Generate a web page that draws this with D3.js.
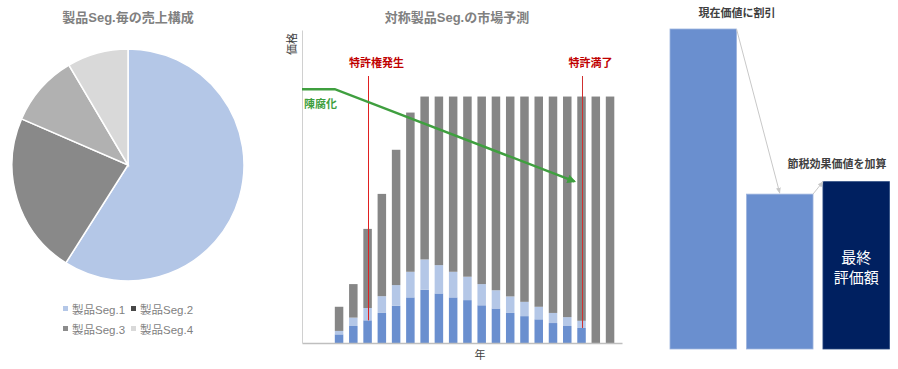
<!DOCTYPE html>
<html>
<head>
<meta charset="utf-8">
<script src="https://cdn.jsdelivr.net/npm/d3@7"></script>
<style>
  body { margin: 0; background: #fff; }
  svg { display: block; font-family: "Liberation Sans", "Noto Sans CJK JP", sans-serif; }
</style>
</head>
<body>
<div id="chart-area"></div>
<script>
// pie data
const segNames = ['製品Seg.1', '製品Seg.2', '製品Seg.3', '製品Seg.4'];
const segShares = [59, 22.5, 10, 8.5];
const pieColors = ['#b4c7e7', '#898989', '#b1b1b1', '#d9d9d9'];
const legendColors = ['#b4c7e7', '#474747', '#8c8c8c', '#d9d9d9'];

// market forecast data
const years = d3.range(1, 21);
const ownSeg = [3.5, 6.9, 9.2, 12.2, 15.1, 18.5, 21.6, 20.1, 18.5, 17.4, 15.3, 14.0, 12.2, 10.9, 9.6, 8.1, 6.9, 6.1, 0, 0];
const subSeg = [1.4, 3.4, 5.0, 6.8, 8.4, 10.4, 12.3, 11.5, 10.4, 9.5, 8.6, 7.4, 6.7, 5.8, 5.1, 4.1, 3.6, 2.9, 0, 0];
const marketTotal = [14.7, 23.9, 46.3, 60.5, 78.4, 93.5, 100, 100, 100, 100, 100, 100, 100, 100, 100, 100, 100, 100, 100, 100];
const priceT = [-1.3, 1, 17.8];
const priceV = [103, 103, 65.6];
const patentStart = 3, patentEnd = 18;

// valuation data
const valNames = ['現在価値', '割引後', '最終評価額'];
const valValues = [100, 48.4, 52.3];

const width = 898, height = 369;

const svg = d3.select('#chart-area')
  .append('svg')
  .attr('width', width)
  .attr('height', height);

// ---------- pie ----------
const pieG = svg.append('g').attr('transform', 'translate(128,165)');

svg.append('text')
  .text('製品Seg.毎の売上構成')
  .attr('x', 128).attr('y', 22)
  .attr('text-anchor', 'middle')
  .attr('font-size', '13px').attr('font-weight', 'bold')
  .attr('fill', '#808080');

const pie = d3.pie().sort(null).value(d => d);
const arc = d3.arc().innerRadius(0).outerRadius(116);

pieG.selectAll('path')
  .data(pie(segShares))
  .enter().append('path')
  .attr('d', arc)
  .attr('fill', (d, i) => pieColors[i])
  .attr('stroke', '#fff')
  .attr('stroke-width', 1.5);

const legend = svg.append('g');
segNames.forEach((name, i) => {
  const lx = 63 + (i % 2) * 68;
  const ly = 311 + Math.floor(i / 2) * 20;
  legend.append('rect')
    .attr('x', lx).attr('y', ly - 5)
    .attr('width', 5).attr('height', 5)
    .attr('fill', legendColors[i]);
  legend.append('text')
    .text(name)
    .attr('x', lx + 9).attr('y', ly)
    .attr('dominant-baseline', 'middle')
    .attr('font-size', '11.5px')
    .attr('fill', '#7f7f7f');
});

// ---------- market forecast ----------
const x = d3.scaleBand()
  .domain(years)
  .range([302, 622])
  .paddingInner(0.404)
  .paddingOuter(1.42)
  .align(0.81);

const y = d3.scaleLinear()
  .domain([0, 127])
  .range([343, 30]);

const xLin = d3.scaleLinear()
  .domain([1, 20])
  .range([x(1), x(20)]);

svg.append('text')
  .text('対称製品Seg.の市場予測')
  .attr('x', 457).attr('y', 22)
  .attr('text-anchor', 'middle')
  .attr('font-size', '13px').attr('font-weight', 'bold')
  .attr('fill', '#808080');

const stackData = years.map((yr, i) => ({
  year: yr,
  own: ownSeg[i],
  sub: subSeg[i],
  rest: marketTotal[i] - ownSeg[i] - subSeg[i]
}));

const stack = d3.stack().keys(['own', 'sub', 'rest']);
const barColors = { own: '#6a8fcf', sub: '#b4c7e7', rest: '#868686' };

svg.append('g').selectAll('g')
  .data(stack(stackData))
  .enter().append('g')
  .attr('fill', d => barColors[d.key])
  .selectAll('rect')
  .data(d => d)
  .enter().append('rect')
  .attr('x', d => x(d.data.year))
  .attr('width', x.bandwidth())
  .attr('y', d => y(d[1]))
  .attr('height', d => Math.max(0, y(d[0]) - y(d[1])));

// axes (lines only)
const xAxis = d3.axisBottom(x).tickSize(0).tickFormat('');
const xAxisG = svg.append('g')
  .attr('transform', 'translate(0,343)')
  .call(xAxis);
xAxisG.select('.domain').attr('stroke', '#bfbfbf').attr('stroke-width', 1.3);

const yAxis = d3.axisLeft(y).tickSize(0).tickFormat('').ticks(0);
const yAxisG = svg.append('g')
  .attr('transform', 'translate(302,0)')
  .call(yAxis);
yAxisG.select('.domain').attr('stroke', '#d0d0d0').attr('stroke-width', 1);

svg.append('text')
  .text('価格')
  .attr('transform', 'translate(296,44) rotate(-90)')
  .attr('text-anchor', 'middle')
  .attr('font-size', '11px')
  .attr('fill', '#404040');

svg.append('text')
  .text('年')
  .attr('x', 480).attr('y', 359)
  .attr('text-anchor', 'middle')
  .attr('font-size', '11px')
  .attr('fill', '#404040');

// patent lines
const patents = [
  { year: patentStart, label: '特許権発生', dx: 8, color: '#e02020' },
  { year: patentEnd, label: '特許満了', dx: 8, color: '#d03030' }
];
patents.forEach(p => {
  const cx = Math.round(x(p.year) + x.bandwidth() / 2) + 0.5;
  const i = p.year - 1;
  svg.append('line')
    .attr('x1', cx).attr('x2', cx)
    .attr('y1', 76).attr('y2', y(ownSeg[i]))
    .attr('stroke', p.color)
    .attr('stroke-width', 1);
  svg.append('text')
    .text(p.label)
    .attr('x', cx + p.dx).attr('y', 67)
    .attr('text-anchor', 'middle')
    .attr('font-size', '11px').attr('font-weight', 'bold')
    .attr('fill', '#c00000');
});

// price line
svg.append('defs').append('marker')
  .attr('id', 'garrow')
  .attr('viewBox', '0 0 10 10')
  .attr('refX', 8).attr('refY', 5)
  .attr('markerWidth', 3.5).attr('markerHeight', 3.5)
  .attr('orient', 'auto')
  .append('path')
  .attr('d', 'M0,0L10,5L0,10z')
  .attr('fill', '#3f9f3f');

const priceData = priceT.map((t, i) => ({ t: t, v: priceV[i] }));
const line = d3.line().x(d => xLin(d.t)).y(d => y(d.v));

svg.append('path')
  .datum(priceData)
  .attr('d', line)
  .attr('fill', 'none')
  .attr('stroke', '#3f9f3f')
  .attr('stroke-width', 2.5)
  .attr('marker-end', 'url(#garrow)');

svg.append('text')
  .text('陳腐化')
  .attr('x', 304).attr('y', 108)
  .attr('font-size', '11px').attr('font-weight', 'bold')
  .attr('fill', '#3f9f3f');

// ---------- valuation ----------
const xv = d3.scaleBand()
  .domain(valNames)
  .range([670, 889.5])
  .paddingInner(0.13)
  .paddingOuter(0);

const yv = d3.scaleLinear()
  .domain([0, 100])
  .range([349, 29]);

const valColors = ['#6a8fcf', '#6a8fcf', '#002060'];

svg.append('g').selectAll('rect')
  .data(valValues)
  .enter().append('rect')
  .attr('x', (d, i) => xv(valNames[i]))
  .attr('width', xv.bandwidth())
  .attr('y', d => yv(d))
  .attr('height', d => yv(0) - yv(d))
  .attr('fill', (d, i) => valColors[i])
  .attr('stroke', (d, i) => i < 2 ? '#9db4de' : '#2a4a80')
  .attr('stroke-width', 0.8);

const defs = svg.select('defs');
defs.append('marker')
  .attr('id', 'garrow2')
  .attr('viewBox', '0 0 10 10')
  .attr('refX', 9).attr('refY', 5)
  .attr('markerWidth', 6).attr('markerHeight', 6)
  .attr('orient', 'auto')
  .append('path')
  .attr('d', 'M0,1L10,5L0,9z')
  .attr('fill', '#c8c8c8');

const bA = xv(valNames[0]), bB = xv(valNames[1]), bC = xv(valNames[2]), bw = xv.bandwidth();

svg.append('line')
  .attr('x1', bA + bw).attr('y1', yv(valValues[0]))
  .attr('x2', bB + bw / 2).attr('y2', yv(valValues[1]) - 1)
  .attr('stroke', '#c8c8c8').attr('stroke-width', 1)
  .attr('marker-end', 'url(#garrow2)');

svg.append('line')
  .attr('x1', bB + bw).attr('y1', yv(valValues[1]))
  .attr('x2', bC).attr('y2', yv(valValues[2]))
  .attr('stroke', '#c8c8c8').attr('stroke-width', 1)
  .attr('marker-end', 'url(#garrow2)');

svg.append('text')
  .text('現在価値に割引')
  .attr('x', 737).attr('y', 17)
  .attr('text-anchor', 'middle')
  .attr('font-size', '11px').attr('font-weight', 'bold')
  .attr('fill', '#404040');

svg.append('text')
  .text('節税効果価値を加算')
  .attr('x', 837).attr('y', 168)
  .attr('text-anchor', 'middle')
  .attr('font-size', '11px').attr('font-weight', 'bold')
  .attr('fill', '#404040');

const finalLabel = svg.append('text')
  .attr('text-anchor', 'middle')
  .attr('font-size', '15px')
  .attr('fill', '#fff');
finalLabel.append('tspan').text('最終').attr('x', bC + bw / 2).attr('y', 263);
finalLabel.append('tspan').text('評価額').attr('x', bC + bw / 2).attr('y', 283);
</script>
</body>
</html>
